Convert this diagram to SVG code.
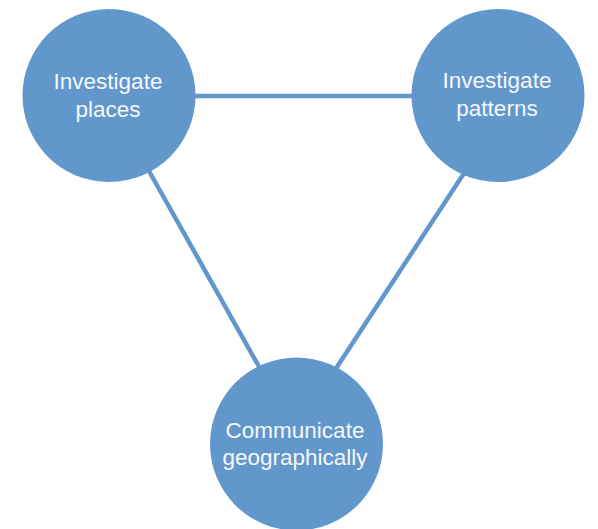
<svg xmlns="http://www.w3.org/2000/svg" width="598" height="529" viewBox="0 0 598 529">
  <style>
    .node circle { fill: #6297cc; }
    .node text { fill: #f5f7fb; font-family: "Liberation Sans", Arial, sans-serif; font-size: 22.5px; text-anchor: middle; }
    .edge { stroke: #6297cc; stroke-width: 4.5; fill: none; }
  </style>
  <rect width="598" height="529" fill="#ffffff"/>
  <g id="connectors">
    <line class="edge" x1="109" y1="96" x2="498" y2="96"/>
    <line class="edge" x1="140" y1="155" x2="262" y2="372"/>
    <line class="edge" x1="474" y1="158" x2="333" y2="373"/>
  </g>
  <g id="investigate-places" class="node">
    <circle cx="109" cy="95.5" r="86.5"/>
    <text x="108" y="89">Investigate</text>
    <text x="108" y="117">places</text>
  </g>
  <g id="investigate-patterns" class="node">
    <circle cx="498" cy="95.5" r="86.5"/>
    <text x="497" y="88">Investigate</text>
    <text x="497" y="116">patterns</text>
  </g>
  <g id="communicate-geographically" class="node">
    <circle cx="296.5" cy="444" r="86.5"/>
    <text x="295" y="438">Communicate</text>
    <text x="295" y="465">geographically</text>
  </g>
</svg>
